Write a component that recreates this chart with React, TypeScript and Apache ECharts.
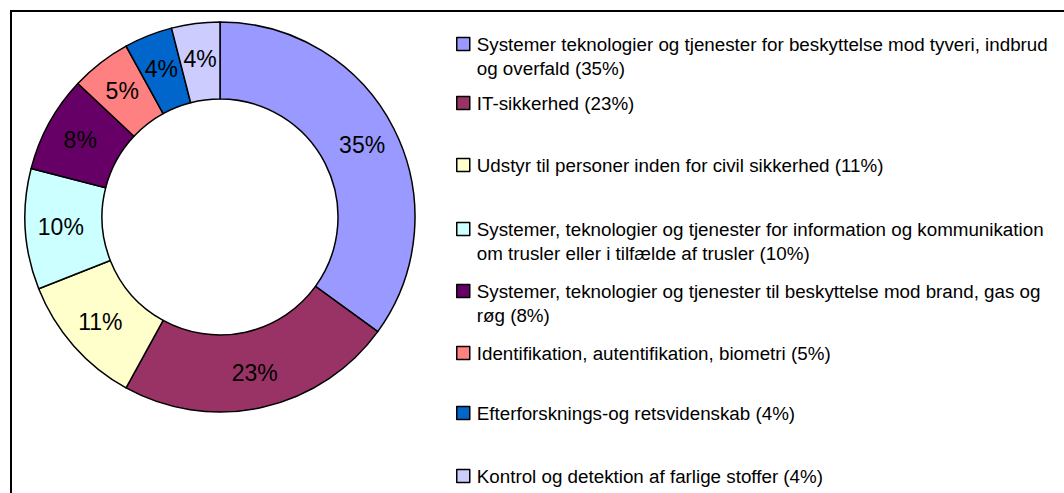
import React, { useEffect, useRef } from "react";
import * as echarts from "echarts";

const categories = [
  "Systemer teknologier og tjenester for beskyttelse mod tyveri, indbrud\nog overfald",
  "IT-sikkerhed",
  "Udstyr til personer inden for civil sikkerhed",
  "Systemer, teknologier og tjenester for information og kommunikation\nom trusler eller i tilfælde af trusler",
  "Systemer, teknologier og tjenester til beskyttelse mod brand, gas og\nrøg",
  "Identifikation, autentifikation, biometri",
  "Efterforsknings-og retsvidenskab",
  "Kontrol og detektion af farlige stoffer",
];
const values = [35, 23, 11, 10, 8, 5, 4, 4];
const colors = ["#9999FF", "#993366", "#FFFFCC", "#CCFFFF", "#660066", "#FF8080", "#0066CC", "#CCCCFF"];

// legend first-line centre y positions (layout)
const legendCenters = [44, 103, 165, 229, 291, 353, 413, 476];

const FONT = "Liberation Sans";

export default function App() {
  const ref = useRef<HTMLDivElement>(null);
  useEffect(() => {
    if (!ref.current) return;
    const chart = echarts.init(ref.current, undefined, { renderer: "svg" });
    const LH = 24;
    const legends = categories.map((name, i) => {
      const multi = name.includes("\n");
      const c = legendCenters[i];
      return {
        data: [name],
        left: 456,
        top: multi ? c - LH * 1.5 : c - LH / 2,
        padding: 0,
        orient: "vertical",
        icon: "rect",
        itemWidth: 13,
        itemHeight: 13,
        itemGap: 0,
        selectedMode: false,
        itemStyle: { borderColor: "#000", borderWidth: 1.5 },
        formatter: (n: string) =>
          `${multi ? "\n" : ""}${n} (${values[categories.indexOf(n)]}%)`,
        textStyle: {
          fontFamily: FONT,
          fontSize: 18.8,
          color: "#000",
          lineHeight: LH,
          padding: [0, 0, 0, 2],
        },
      };
    });
    chart.setOption({
      animation: false,
      backgroundColor: "#fff",
      legend: legends,
      graphic: [
        {
          type: "rect",
          shape: { x: 11, y: 11, width: 1100, height: 600 },
          style: { fill: "none", stroke: "#000", lineWidth: 2 },
          silent: true,
        },
      ],
      series: [
        {
          type: "pie",
          center: [220, 217],
          radius: [118, 195],
          startAngle: 90,
          clockwise: true,
          avoidLabelOverlap: false,
          itemStyle: { borderColor: "#000", borderWidth: 1.5 },
          label: {
            show: true,
            position: "inside",
            formatter: "{c}%",
            fontFamily: FONT,
            fontSize: 23,
            color: "#000",
          },
          labelLine: { show: false },
          emphasis: { disabled: true },
          data: categories.map((name, i) => ({
            name,
            value: values[i],
            itemStyle: { color: colors[i] },
          })),
        },
      ],
    });
    return () => chart.dispose();
  }, []);
  return (
    <div
      ref={ref}
      style={{ position: "fixed", left: 0, top: 0, width: 1064, height: 493 }}
    />
  );
}
